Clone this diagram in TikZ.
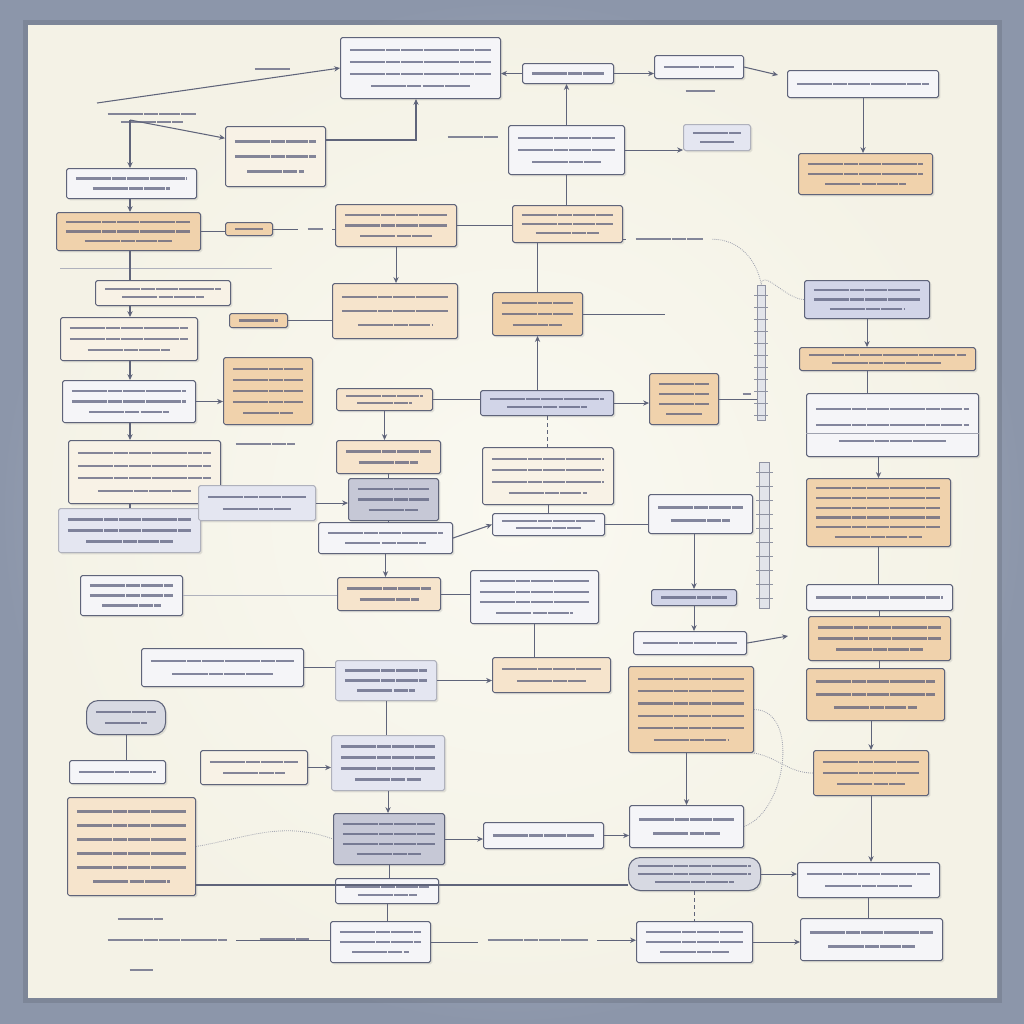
\documentclass[tikz,border=0pt]{standalone}
\usetikzlibrary{calc,arrows.meta,shadows}
\definecolor{bgout}{RGB}{140,150,170}
\definecolor{bgin}{RGB}{200,206,218}
\definecolor{paper}{RGB}{244,242,230}
\definecolor{paperc}{RGB}{250,249,241}
\definecolor{wfill}{RGB}{245,245,248}
\definecolor{cfill}{RGB}{248,242,230}
\definecolor{ofill}{RGB}{240,210,172}
\definecolor{olfill}{RGB}{246,228,204}
\definecolor{bfill}{RGB}{210,213,232}
\definecolor{blfill}{RGB}{228,230,241}
\definecolor{gfill}{RGB}{198,200,214}
\definecolor{edge}{RGB}{95,100,122}
\definecolor{ink}{RGB}{88,92,122}
\tikzset{
 x=0.3mm, y=-0.3mm,
 textline/.style={ink, line width=1.9pt, opacity=0.72, dash pattern=on 30pt off 1pt on 12pt off 1pt on 18pt off 1pt},
 lines/.style={path picture={
   \coordinate (pnw) at (path picture bounding box.north west);
   \coordinate (pse) at (path picture bounding box.south east);
   \foreach \i in {1,...,#1}{
     \pgfmathsetmacro\f{\i/(#1+1)}
     \pgfmathsetmacro\sh{(\i==#1)*(#1>1)*0.15}
     \coordinate (pl) at ($(pnw)!\f!(pnw|-pse)+(8pt,0)$);
     \coordinate (pr) at ($(pnw-|pse)!\f!(pse)+(-8pt,0)$);
     \draw[textline] ($(pl)!\sh!(pr)$) -- ($(pr)!\sh!(pl)$);
   }}},
 box/.style={draw=edge, line width=0.9pt, rounded corners=1.5pt, inner sep=0pt, anchor=north west,
   drop shadow={opacity=0.2, shadow xshift=1.5pt, shadow yshift=-1.5pt}},
 wbox/.style={box, fill=wfill},
 cbox/.style={box, fill=cfill},
 obox/.style={box, fill=ofill},
 olbox/.style={box, fill=olfill},
 bbox/.style={box, fill=bfill},
 blbox/.style={box, fill=blfill, draw=edge!50},
 gbox/.style={box, fill=gfill},
 grbox/.style={box, fill=gfill!70, rounded corners=10pt},
 plain/.style={inner sep=0pt, anchor=north west},
 conn/.style={edge, line width=0.9pt},
 arr/.style={conn, -{Stealth[length=5pt,width=4.5pt]}},
 soft/.style={edge!60, line width=0.7pt, densely dotted},
 ruler/.style={draw=edge!70, fill=gfill!50, line width=0.6pt, inner sep=0pt, anchor=north west},
}
\newcommand\bx[7]{\node[#2, minimum width={(#5-#3)*0.3mm}, minimum height={(#6-#4)*0.3mm}, lines=#7] (#1) at (#3,#4) {};}
\begin{document}
\begin{tikzpicture}
\useasboundingbox (0,0) rectangle (1024,1024);
\shade[inner color=bgin, outer color=bgout] (0,0) rectangle (1024,1024);
\fill[black, opacity=0.10] (23,20) rectangle (1002,1003);
\fill[paper] (28,25) rectangle (997,997);
\shade[inner color=paperc, outer color=paper] (28,25) rectangle (997,997);

% rulers
\node[ruler, minimum width={8*0.3mm}, minimum height={135*0.3mm}] (r1) at (757,285) {};
\node[ruler, minimum width={10*0.3mm}, minimum height={146*0.3mm}] (r2) at (759,462) {};
\foreach \yy in {295,307,...,415}{\draw[edge!70, line width=0.5pt] (754,\yy) -- (768,\yy);}
\foreach \yy in {472,486,...,600}{\draw[edge!70, line width=0.5pt] (756,\yy) -- (773,\yy);}

% boxes
\bx{b1}{wbox}{340}{37}{500}{98}{4}
\bx{b2}{wbox}{522}{63}{613}{83}{1}
\bx{b3}{wbox}{654}{55}{743}{78}{1}
\bx{b4}{wbox}{787}{70}{938}{97}{1}
\bx{b5}{cbox}{225}{126}{325}{186}{3}
\bx{b6}{wbox}{508}{125}{624}{174}{3}
\bx{b7}{blbox}{683}{124}{750}{150}{2}
\bx{b8}{obox}{798}{153}{932}{194}{3}
\bx{b9}{wbox}{66}{168}{196}{198}{2}
\bx{b10}{obox}{56}{212}{200}{250}{3}
\bx{b11}{obox}{225}{222}{272}{235}{1}
\bx{b13}{olbox}{335}{204}{456}{246}{3}
\bx{b14}{olbox}{512}{205}{622}{242}{3}
\bx{b16}{cbox}{95}{280}{230}{305}{2}
\bx{b17}{obox}{229}{313}{287}{327}{1}
\bx{b18}{olbox}{332}{283}{457}{338}{3}
\bx{b19}{obox}{492}{292}{582}{335}{3}
\bx{b20}{bbox}{804}{280}{929}{318}{3}
\bx{b21}{cbox}{60}{317}{197}{360}{3}
\bx{b22}{obox}{799}{347}{975}{370}{2}
\bx{b23}{obox}{223}{357}{312}{424}{5}
\bx{b24}{wbox}{62}{380}{195}{422}{3}
\bx{b25}{olbox}{336}{388}{432}{410}{2}
\bx{b26}{bbox}{480}{390}{613}{415}{2}
\bx{b27}{obox}{649}{373}{718}{424}{4}
\bx{b28}{wbox}{806}{393}{978}{456}{3}
\bx{b30}{cbox}{68}{440}{220}{503}{4}
\bx{b31}{blbox}{58}{508}{200}{552}{3}
\bx{b32}{blbox}{198}{485}{315}{520}{2}
\bx{b33}{olbox}{336}{440}{440}{473}{2}
\bx{b34}{gbox}{348}{478}{438}{520}{3}
\bx{b35}{cbox}{482}{447}{613}{504}{4}
\bx{b36}{wbox}{492}{513}{604}{535}{2}
\bx{b37}{wbox}{318}{522}{452}{553}{2}
\bx{b38}{wbox}{648}{494}{752}{533}{2}
\bx{b39}{obox}{806}{478}{950}{546}{6}
\bx{b40}{wbox}{80}{575}{182}{615}{3}
\bx{b41}{olbox}{337}{577}{440}{610}{2}
\bx{b42}{wbox}{470}{570}{598}{623}{4}
\bx{b43}{bbox}{651}{589}{736}{605}{1}
\bx{b44}{wbox}{806}{584}{952}{610}{1}
\bx{b45}{obox}{808}{616}{950}{660}{3}
\bx{b46}{wbox}{633}{631}{746}{654}{1}
\bx{b47}{wbox}{141}{648}{303}{686}{2}
\bx{b48}{blbox}{335}{660}{436}{700}{3}
\bx{b49}{olbox}{492}{657}{610}{692}{2}
\bx{b50}{obox}{628}{666}{753}{752}{6}
\bx{b51}{obox}{806}{668}{944}{720}{3}
\bx{b52}{grbox}{86}{700}{165}{734}{2}
\bx{b53}{cbox}{200}{750}{307}{784}{2}
\bx{b54}{wbox}{69}{760}{165}{783}{1}
\bx{b55}{blbox}{331}{735}{444}{790}{4}
\bx{b56}{obox}{813}{750}{928}{795}{3}
\bx{b57}{olbox}{67}{797}{195}{895}{6}
\bx{b58}{gbox}{333}{813}{444}{864}{4}
\bx{b59}{wbox}{483}{822}{603}{848}{1}
\bx{b60}{wbox}{629}{805}{743}{847}{2}
\bx{b61}{grbox}{628}{857}{760}{890}{3}
\bx{b62}{wbox}{797}{862}{939}{897}{2}
\bx{b63}{wbox}{335}{878}{438}{903}{2}
\bx{b64}{wbox}{330}{921}{430}{962}{3}
\bx{b65}{wbox}{636}{921}{752}{962}{3}
\bx{b66}{wbox}{800}{918}{942}{960}{2}
\draw[edge!60, line width=0.6pt] (b28.west |- 0,433) -- (b28.east |- 0,433);

% loose labels
\bx{l1}{plain}{245}{62}{300}{76}{1}
\bx{l2}{plain}{98}{106}{205}{130}{2}
\bx{l3}{plain}{438}{132}{507}{142}{1}
\bx{b12}{plain}{298}{224}{332}{234}{1}
\bx{b15}{plain}{626}{234}{712}{244}{1}
\bx{l6}{plain}{676}{86}{724}{96}{1}
\bx{l7}{plain}{226}{438}{304}{450}{1}
\bx{l8}{plain}{98}{930}{236}{950}{1}
\bx{l8a}{plain}{108}{914}{172}{924}{1}
\bx{l8b}{plain}{120}{964}{162}{976}{1}
\bx{l9}{plain}{250}{934}{318}{944}{1}
\bx{l10}{plain}{478}{934}{597}{946}{1}
\bx{l11}{plain}{733}{389}{760}{399}{1}

% free ends
\coordinate (c1) at (97,103);
\coordinate (c2) at (130,120);
\coordinate (c4) at (778,75);
\coordinate (c5) at (416,140);
\coordinate (c7) at (665,305);
\coordinate (c9) at (788,636);
\coordinate (c10) at (195,885);
\coordinate (c11) at (60,268);
\coordinate (c12) at (272,268);

% connectors
\draw[arr] (c1) -- (b1.west);
\draw[arr] (c2) -- ($(b5.north west)!0.2!(b5.south west)$);
\draw[arr] (c2) -- (c2 |- b9.north);
\draw[arr] (b2.west) -- (b2.west -| b1.east);
\draw[arr] (b2.east) -- (b2.east -| b3.west);
\draw[arr] (b3.east) -- (c4);
\draw[arr] (b6.north) -- (b6.north |- b2.south);
\draw[arr] (b4.south) -- (b4.south |- b8.north);
\draw[arr] (b5.east |- c5) -- (c5) -- (c5 |- b1.south);
\draw[arr] (b6.east) -- (b6.east -| b7.west);
\draw[conn] (b6.south) -- (b6.south |- b14.north);
\draw[arr] (b9.south -| c2) -- (c2 |- b10.north);
\draw[conn] (b10.east) -- (b10.east -| b11.west);
\draw[conn] (b11.east) -- (b11.east -| b12.west);
\draw[conn] (b12.east) -- (b12.east -| b13.west);
\draw[conn] (b13.east) -- (b13.east -| b14.west);
\draw[arr] (b13.south) -- (b13.south |- b18.north);
\draw[conn] (b19.north |- b14.south) -- (b19.north);
\draw[conn] (b14.east |- b15.west) -- (b15.west);
\draw[soft] (b15.east) to[out=0,in=100] (r1.north);
\draw[edge!50, line width=0.8pt] (c11) -- (c12);
\draw[conn] (b10.south -| c2) -- (c2 |- b16.north);
\draw[arr] (c2 |- b16.south) -- (c2 |- b21.north);
\draw[conn] (b17.east) -- (b17.east -| b18.west);
\draw[arr] (b19.south |- b26.north) -- (b19.south);
\draw[conn] (b19.east) -- (b19.east -| c7);
\draw[arr] (b20.south) -- (b20.south |- b22.north);
\draw[conn] (b20.south |- b22.south) -- (b20.south |- b28.north);
\draw[arr] (c2 |- b21.south) -- (c2 |- b24.north);
\draw[arr] (b24.east) -- (b24.east -| b23.west);
\draw[conn] (b25.east) -- (b25.east -| b26.west);
\draw[arr] (b26.east) -- (b26.east -| b27.west);
\draw[conn] (b27.east) -- (b27.east -| r1.west);
\draw[arr] (b25.south) -- (b25.south |- b33.north);
\draw[conn, dashed] (b26.south) -- (b26.south |- b35.north);
\draw[arr] (c2 |- b24.south) -- (c2 |- b30.north);
\draw[conn] (c2 |- b30.south) -- (c2 |- b31.north);
\draw[arr] (b32.east) -- (b32.east -| b34.west);
\draw[conn] (b33.south) -- (b33.south |- b34.north);
\draw[conn] (b33.south |- b34.south) -- (b33.south |- b37.north);
\draw[arr] (b37.south) -- (b37.south |- b41.north);
\draw[arr] (b37.east) -- (b36.west);
\draw[conn] (b35.south) -- (b35.south |- b36.north);
\draw[conn] (b36.east) -- (b36.east -| b38.west);
\draw[arr] (b43.north |- b38.south) -- (b43.north);
\draw[edge!50, line width=0.8pt] (b40.east) -- (b40.east -| b41.west);
\draw[conn] (b41.east) -- (b41.east -| b42.west);
\draw[arr] (b28.south -| b39.north) -- (b39.north);
\draw[conn] (b39.south) -- (b39.south |- b44.north);
\draw[conn] (b44.south) -- (b44.south |- b45.north);
\draw[conn] (b45.south) -- (b45.south |- b51.north);
\draw[arr] (b56.north |- b51.south) -- (b56.north);
\draw[arr] (b56.south) -- (b56.south |- b62.north);
\draw[conn] (b62.south) -- (b62.south |- b66.north);
\draw[arr] (b43.south) -- (b43.south |- b46.north);
\draw[arr] (b46.east) -- (c9);
\draw[conn] (b42.south) -- (b42.south |- b49.north);
\draw[conn] (b47.east) -- (b47.east -| b48.west);
\draw[arr] (b48.east) -- (b48.east -| b49.west);
\draw[conn] (b48.south) -- (b48.south |- b55.north);
\draw[arr] (b55.south) -- (b55.south |- b58.north);
\draw[arr] (b53.east) -- (b53.east -| b55.west);
\draw[conn] (b52.south) -- (b52.south |- b54.north);
\draw[arr] (b58.east) -- (b58.east -| b59.west);
\draw[arr] (b59.east) -- (b59.east -| b60.west);
\draw[arr] (b60.north |- b50.south) -- (b60.north);
\draw[arr] (b61.east) -- (b61.east -| b62.west);
\draw[conn] (c10) -- (c10 -| b61.west);
\draw[conn] (b58.south) -- (b58.south |- b63.north);
\draw[conn] (b63.south) -- (b63.south |- b64.north);
\draw[conn, dashed] (b61.south) -- (b61.south |- b65.north);
\draw[arr] (b65.east) -- (b65.east -| b66.west);
\draw[conn] (b64.east) -- (b64.east -| l10.west);
\draw[arr] (l10.east) -- (l10.east -| b65.west);
\draw[conn] (l8.east) -- (l8.east -| b64.west);
\draw[soft] (b50.east) to[out=0,in=20] (b60.east);
\draw[soft] (b50.south east) to[out=-10,in=180] (b56.west);
\draw[soft] (b57.east) to[out=10,in=160] (b58.west);
\draw[soft] (b20.west) to[out=180,in=90] (r1.north);
\end{tikzpicture}
\end{document}
